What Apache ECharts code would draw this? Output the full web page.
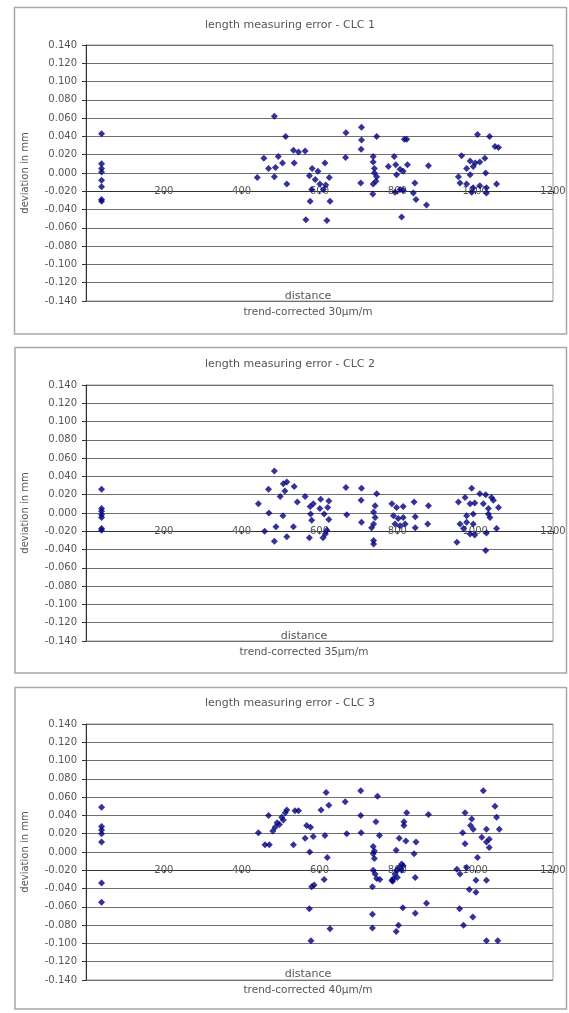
<!DOCTYPE html>
<html>
<head>
<meta charset="utf-8">
<script src="https://cdn.jsdelivr.net/npm/echarts@6/dist/echarts.min.js"></script>
<style>
html,body{margin:0;padding:0;background:#fff;}
#c{width:569px;height:1013px;}
</style>
</head>
<body>
<div id="c"></div>
<script>
// ---- data ----
var titles = ['length measuring error - CLC 1', 'length measuring error - CLC 2', 'length measuring error - CLC 3'];
var xNames = ['distance', 'distance', 'distance'];
var subNames = ['trend-corrected 30µm/m', 'trend-corrected 35µm/m', 'trend-corrected 40µm/m'];
var yName = 'deviation in mm';
var xTicks = [0, 200, 400, 600, 800, 1000, 1200];
var yTicks = [-0.14, -0.12, -0.10, -0.08, -0.06, -0.04, -0.02, 0, 0.02, 0.04, 0.06, 0.08, 0.10, 0.12, 0.14];
var xAxisCross = -0.02;

var clc1 = [
 [40,0.043],[40,0.010],[40,0.005],[40,0.001],[40,-0.008],[40,-0.015],[40,-0.029],[40,-0.031],
 [484,0.062],[513,0.040],[457,0.016],[494,0.018],[469,0.005],[487,0.006],[505,0.011],[440,-0.005],[484,-0.004],[516,-0.012],
 [533,0.025],[546,0.023],[563,0.024],[535,0.011],[581,0.005],[574,-0.003],[614,0.011],[589,-0.007],[601,-0.012],[580,-0.018],
 [610,-0.018],[625,-0.005],[616,-0.013],[576,-0.031],[627,-0.031],[565,-0.051],[619,-0.052],[596,0.002],
 [668,0.044],[667,0.017],[708,0.050],[708,0.036],[707,0.026],[747,0.040],[706,-0.011],[738,0.018],[738,0.012],[741,0.005],
 [741,0.000],[747,-0.004],[745,-0.009],[737,-0.023],[738,-0.012],
 [818,0.037],[824,0.037],[792,0.018],[777,0.007],[796,0.009],[807,0.004],[815,0.002],[826,0.009],[798,-0.002],[794,-0.021],
 [807,-0.018],[815,-0.019],[845,-0.011],[841,-0.022],[848,-0.029],[811,-0.048],[880,0.008],[875,-0.035],
 [1006,0.042],[1037,0.040],[1051,0.029],[1060,0.028],[965,0.019],[987,0.013],[1000,0.011],[1012,0.012],[1025,0.016],[995,0.007],
 [978,0.005],[987,-0.002],[957,-0.004],[961,-0.011],[978,-0.012],[995,-0.016],[1012,-0.014],[1029,-0.016],[1029,-0.022],[991,-0.021],
 [1027,0.000],[1055,-0.012]
];
var clc2 = [
 [40,0.026],[40,0.005],[40,0.002],[40,-0.002],[40,-0.005],[40,-0.017],[40,-0.019],
 [484,0.046],[469,0.026],[507,0.032],[516,0.034],[535,0.029],[499,0.018],[511,0.024],[443,0.010],[470,0.000],[506,-0.003],
 [459,-0.020],[488,-0.015],[484,-0.031],[516,-0.026],[533,-0.015],[543,0.012],[563,0.018],[576,0.007],[584,0.010],[577,-0.001],
 [580,-0.008],[574,-0.027],[603,0.015],[601,0.005],[624,0.013],[621,0.006],[612,-0.001],[624,-0.007],[615,-0.023],[619,-0.019],[609,-0.027],
 [668,0.028],[670,-0.002],[708,0.027],[707,0.014],[708,-0.010],[747,0.021],[743,0.008],[739,0.001],[743,-0.005],[739,-0.012],
 [734,-0.016],[739,-0.030],[739,-0.034],
 [786,0.010],[798,0.006],[815,0.007],[790,-0.003],[802,-0.006],[815,-0.005],[794,-0.012],[807,-0.014],[820,-0.012],[843,0.012],
 [846,-0.004],[846,-0.016],[880,0.008],[878,-0.012],
 [957,0.012],[991,0.027],[974,0.017],[1012,0.021],[1027,0.020],[1042,0.017],[999,0.011],[987,0.010],[1021,0.010],[1047,0.014],
 [1060,0.006],[1034,0.005],[995,-0.001],[978,-0.003],[961,-0.012],[978,-0.010],[995,-0.012],[970,-0.017],[987,-0.023],[999,-0.024],
 [1029,-0.022],[1055,-0.017],[953,-0.032],[1027,-0.041],[1038,-0.005],[1034,-0.001]
];
var clc3 = [
 [40,0.049],[40,0.028],[40,0.024],[40,0.020],[40,0.011],[40,-0.034],[40,-0.055],
 [617,0.065],[706,0.067],[749,0.061],[624,0.051],[666,0.055],[604,0.046],[469,0.040],[491,0.032],[486,0.027],[480,0.023],
 [503,0.038],[512,0.043],[516,0.046],[537,0.045],[546,0.045],[507,0.035],[497,0.030],[443,0.021],[460,0.008],[471,0.008],
 [533,0.008],[567,0.029],[577,0.027],[563,0.015],[584,0.017],[614,0.018],[575,0.000],[620,-0.006],[612,-0.030],[580,-0.038],
 [586,-0.036],[574,-0.062],[627,-0.084],[578,-0.097],
 [670,0.020],[706,0.040],[707,0.021],[745,0.033],[754,0.018],[738,0.006],[741,0.001],[738,-0.002],[741,-0.007],[738,-0.020],
 [743,-0.024],[747,-0.029],[755,-0.030],[736,-0.038],[736,-0.068],[736,-0.083],
 [824,0.043],[817,0.033],[817,0.029],[805,0.015],[822,0.012],[848,0.011],[880,0.041],[797,0.002],[843,-0.002],[811,-0.013],
 [805,-0.017],[798,-0.020],[794,-0.024],[790,-0.029],[786,-0.031],[800,-0.028],[811,-0.020],[815,-0.015],[846,-0.028],[814,-0.061],
 [846,-0.067],[875,-0.056],[803,-0.080],[797,-0.087],[788,-0.032],
 [1021,0.067],[1051,0.050],[1055,0.038],[1062,0.025],[974,0.043],[991,0.036],[988,0.029],[995,0.025],[1029,0.025],[968,0.021],
 [1017,0.016],[1036,0.014],[1029,0.011],[1036,0.005],[974,0.009],[1006,-0.006],[953,-0.019],[961,-0.024],[978,-0.017],[1002,-0.031],
 [1029,-0.031],[985,-0.041],[1002,-0.044],[960,-0.062],[994,-0.071],[970,-0.080],[1029,-0.097],[1058,-0.097]
];
var seriesData = [clc1, clc2, clc3];

// ---- layout / style ----
var FONT = 'DejaVu Sans';
var TEXT = '#555555';
var gridTops = [45, 385, 724];
var gridH = 256;
var gridLeft = 86, gridW = 467;
var boxes = [[14.5, 7.5, 552, 326.5], [15, 347.5, 551.5, 325.5], [15, 687.5, 551.5, 321.5]];
var titleY = [25, 364, 703];
var nameY = [296, 636, 974];
var nameX = [308, 304, 308];

var yMin = yTicks[0], yMax = yTicks[yTicks.length - 1];
var xOffset = -gridH * (xAxisCross - yMin) / (yMax - yMin);

var chart = echarts.init(document.getElementById('c'), null, {renderer: 'canvas'});

var grids = [], xAxes = [], yAxes = [], series = [], graphics = [];
for (var i = 0; i < 3; i++) {
  grids.push({left: gridLeft, top: gridTops[i], width: gridW, height: gridH, show: true,
    borderColor: '#9a9a9a', borderWidth: 1, backgroundColor: 'transparent'});
  xAxes.push({
    gridIndex: i, type: 'value', min: xTicks[0], max: xTicks[xTicks.length - 1], interval: 200,
    position: 'bottom', offset: xOffset,
    axisLine: {show: true, onZero: false, lineStyle: {color: '#333', width: 1}},
    axisTick: {show: true, length: 3, inside: false, lineStyle: {color: '#333'}},
    axisLabel: {margin: -5, fontSize: 10, fontFamily: FONT, color: TEXT,
      formatter: function (v) { return v === 0 ? '' : String(v); }},
    splitLine: {show: false}
  });
  yAxes.push({
    gridIndex: i, type: 'value', min: yMin, max: yMax, interval: 0.02,
    name: yName, nameLocation: 'middle', nameGap: 56, nameRotate: 90,
    nameTextStyle: {fontSize: 10, fontFamily: FONT, color: TEXT},
    axisLine: {show: true, onZero: false, lineStyle: {color: '#333', width: 1}},
    axisTick: {show: true, length: 4, lineStyle: {color: '#333'}},
    axisLabel: {margin: 9, fontSize: 10, fontFamily: FONT, color: TEXT,
      formatter: function (v) { var s = (Math.abs(v) < 1e-9 ? 0 : v).toFixed(3); return s; }},
    splitLine: {show: true, lineStyle: {color: '#707070', width: 1}}
  });
  series.push({
    type: 'scatter', xAxisIndex: i, yAxisIndex: i, data: seriesData[i],
    symbol: 'diamond', symbolSize: 7, itemStyle: {color: '#000080'}, silent: true
  });
  var b = boxes[i];
  graphics.push({type: 'rect', shape: {x: b[0], y: b[1], width: b[2], height: b[3]},
    style: {fill: 'none', stroke: '#a8a8a8', lineWidth: 1.5}, z: -1});
  graphics.push({type: 'text', x: 290, y: titleY[i],
    style: {text: titles[i], font: '11px "' + FONT + '"', fill: TEXT, align: 'center', verticalAlign: 'middle'}});
  graphics.push({type: 'text', x: nameX[i], y: nameY[i],
    style: {text: xNames[i], font: '11px "' + FONT + '"', fill: TEXT, align: 'center', verticalAlign: 'middle'}});
  graphics.push({type: 'text', x: nameX[i], y: nameY[i] + 16,
    style: {text: subNames[i], font: '10.5px "' + FONT + '"', fill: TEXT, align: 'center', verticalAlign: 'middle'}});
}

chart.setOption({
  animation: false,
  backgroundColor: '#fff',
  grid: grids, xAxis: xAxes, yAxis: yAxes, series: series,
  graphic: {elements: graphics}
});
</script>
</body>
</html>
